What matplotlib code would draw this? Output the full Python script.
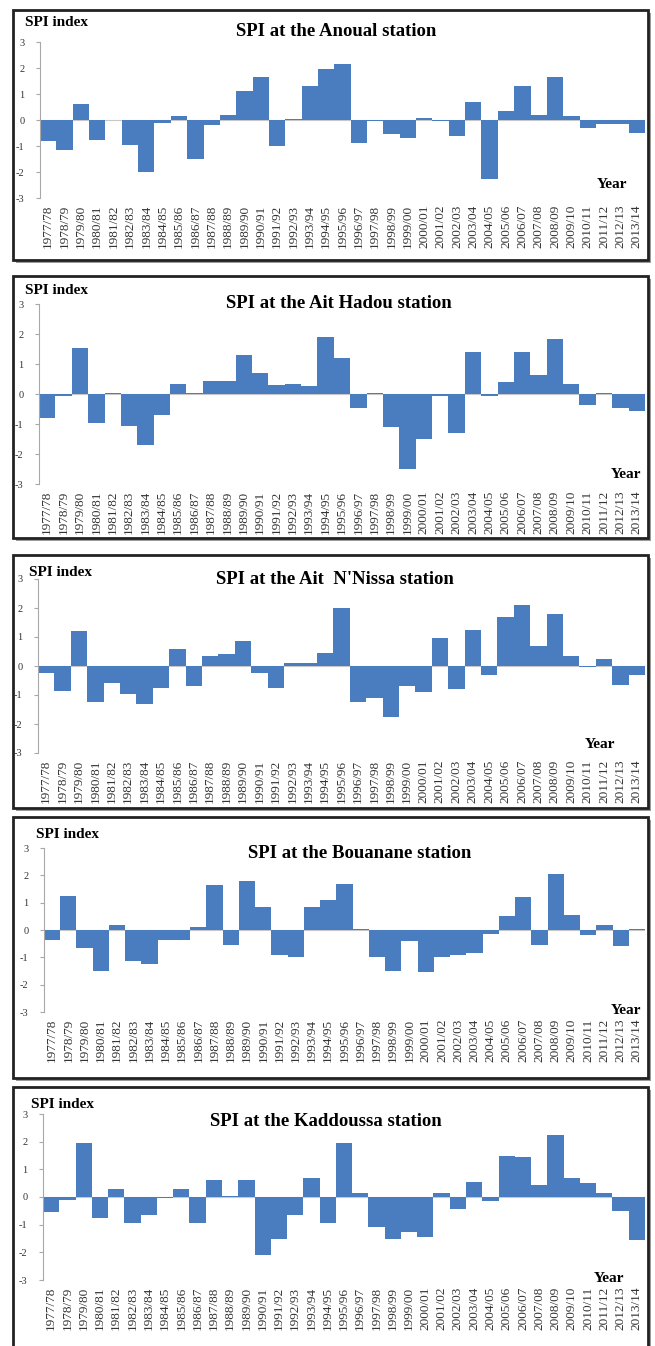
import matplotlib
matplotlib.use("Agg")
import matplotlib.pyplot as plt
from matplotlib.patches import Rectangle

W, H = 655, 1346
DPI = 100
BLUE = "#4a7dbf"

SEASONS = [
    "1977/78", "1978/79", "1979/80", "1980/81", "1981/82", "1982/83", "1983/84",
    "1984/85", "1985/86", "1986/87", "1987/88", "1988/89", "1989/90", "1990/91",
    "1991/92", "1992/93", "1993/94", "1994/95", "1995/96", "1996/97", "1997/98",
    "1998/99", "1999/00", "2000/01", "2001/02", "2002/03", "2003/04", "2004/05",
    "2005/06", "2006/07", "2007/08", "2008/09", "2009/10", "2010/11", "2011/12",
    "2012/13", "2013/14",
]

ANOUAL = [
    -0.8, -1.15, 0.6, -0.75, 0.0, -0.95, -2.0, -0.1, 0.15, -1.5, -0.2, 0.2,
    1.1, 1.65, -1.0, 0.03, 1.3, 1.95, 2.15, -0.9, -0.05, -0.55, -0.7, 0.07,
    -0.02, -0.6, 0.7, -2.25, 0.35, 1.3, 0.2, 1.65, 0.15, -0.3, -0.15, -0.15, -0.5,
]
AIT_HADOU = [
    -0.8, -0.05, 1.55, -0.95, 0.05, -1.05, -1.7, -0.7, 0.35, 0.02, 0.45, 0.45,
    1.3, 0.7, 0.3, 0.33, 0.28, 1.9, 1.2, -0.45, 0.05, -1.1, -2.5, -1.5,
    -0.05, -1.3, 1.4, -0.05, 0.4, 1.4, 0.65, 1.85, 0.35, -0.35, 0.05, -0.45, -0.55,
]
AIT_NNISSA = [
    -0.25, -0.85, 1.2, -1.25, -0.6, -0.95, -1.3, -0.75, 0.6, -0.7, 0.35, 0.4,
    0.85, -0.25, -0.75, 0.1, 0.1, 0.45, 2.0, -1.25, -1.1, -1.75, -0.7, -0.9,
    0.95, -0.8, 1.25, -0.3, 1.7, 2.1, 0.7, 1.8, 0.35, -0.05, 0.25, -0.65, -0.3,
]
BOUANANE = [
    -0.35, 1.25, -0.65, -1.5, 0.2, -1.15, -1.25, -0.35, -0.35, 0.1, 1.65, -0.55,
    1.8, 0.85, -0.9, -1.0, 0.85, 1.1, 1.7, 0.05, -1.0, -1.5, -0.4, -1.55,
    -1.0, -0.9, -0.85, -0.15, 0.5, 1.2, -0.55, 2.05, 0.55, -0.2, 0.2, -0.6, 0.05,
]
KADDOUSSA = [
    -0.55, -0.1, 1.95, -0.75, 0.3, -0.95, -0.65, -0.05, 0.3, -0.95, 0.6, 0.05,
    0.6, -2.1, -1.5, -0.65, 0.7, -0.95, 1.95, 0.15, -1.1, -1.5, -1.25, -1.45,
    0.15, -0.45, 0.55, -0.15, 1.5, 1.45, 0.45, 2.25, 0.7, 0.5, 0.15, -0.5, -1.55,
]

YTICKS = [-3, -2, -1, 0, 1, 2, 3]
YTICK_LABELS = ["-3", "-2", "-1", "0", "1", "2", "3"]

# panel layout in pixels (from top-left): box, axes extent, text anchors
PANELS = [
    dict(name="Anoual", values=ANOUAL, box=(13, 10, 648, 260), ax=(40, 42, 645, 198),
         label=(25, 23), title=(336, 31), year=(612, 184)),
    dict(name="Ait Hadou", values=AIT_HADOU, box=(13, 276, 648, 538), ax=(39, 304, 645, 484),
         label=(25, 290), title=(339, 304), year=(626, 474)),
    dict(name="Ait  N'Nissa", values=AIT_NNISSA, box=(13, 555, 648, 808), ax=(38, 579, 645, 753),
         label=(29, 572), title=(335, 580), year=(600, 744)),
    dict(name="Bouanane", values=BOUANANE, box=(13, 817, 648, 1078), ax=(44, 848, 645, 1012),
         label=(36, 835), title=(360, 853), year=(626, 1010)),
    dict(name="Kaddoussa", values=KADDOUSSA, box=(13, 1087, 648, 1360), ax=(43, 1114, 645, 1280),
         label=(31, 1104), title=(326, 1122), year=(609, 1278)),
]


def fx(x):
    return x / W


def fy(y):
    return 1 - y / H


def draw_box(fig, box):
    left, top, right, bottom = box
    shadow = Rectangle((fx(left + 3), fy(bottom + 3)), (right - left) / W, (bottom - top) / H,
                       transform=fig.transFigure, facecolor="#9a9a9a", edgecolor="none", zorder=-3)
    frame = Rectangle((fx(left), fy(bottom)), (right - left) / W, (bottom - top) / H,
                      transform=fig.transFigure, facecolor="white", edgecolor="#222222",
                      linewidth=2.0, zorder=-2)
    fig.add_artist(shadow)
    fig.add_artist(frame)


def draw_panel(fig, spec):
    draw_box(fig, spec["box"])
    left, top, right, bottom = spec["ax"]
    ax = fig.add_axes([fx(left), fy(bottom), (right - left) / W, (bottom - top) / H])
    ax.patch.set_alpha(0)

    x = list(range(len(SEASONS)))
    ax.axhline(0, color="#c8c8c8", linewidth=0.8, zorder=0)
    ax.bar(x, spec["values"], width=1.0, color=BLUE, linewidth=0, zorder=2)

    ax.set_xlim(-0.5, len(SEASONS) - 0.5)
    ax.set_ylim(-3, 3)
    ax.set_yticks(YTICKS)
    ax.set_yticklabels(YTICK_LABELS)
    ax.set_xticks(x)
    ax.set_xticklabels(SEASONS, rotation=90)

    for side in ("top", "right", "bottom"):
        ax.spines[side].set_visible(False)
    ax.spines["left"].set_color("#a8a8a8")
    ax.spines["left"].set_linewidth(0.8)
    ax.tick_params(axis="y", length=3, width=0.8, color="#a8a8a8", labelsize=7.5,
                   labelcolor="#333333", pad=8)
    ax.tick_params(axis="x", length=0, labelsize=9.5, labelcolor="#333333", pad=5)

    fig.text(fx(spec["label"][0]), fy(spec["label"][1]), "SPI index", fontsize=11,
             fontweight="bold", ha="left", va="center")
    fig.text(fx(spec["title"][0]), fy(spec["title"][1]), f"SPI at the {spec['name']} station",
             fontsize=13.5, fontweight="bold", ha="center", va="center")
    fig.text(fx(spec["year"][0]), fy(spec["year"][1]), "Year", fontsize=11,
             fontweight="bold", ha="center", va="center")


def main():
    plt.rcParams["font.family"] = ["Liberation Serif", "DejaVu Serif"]
    fig = plt.figure(figsize=(W / DPI, H / DPI), dpi=DPI)
    fig.patch.set_facecolor("white")
    for spec in PANELS:
        draw_panel(fig, spec)
    fig.savefig("out.png", dpi=DPI)
    plt.close(fig)


if __name__ == "__main__":
    main()
